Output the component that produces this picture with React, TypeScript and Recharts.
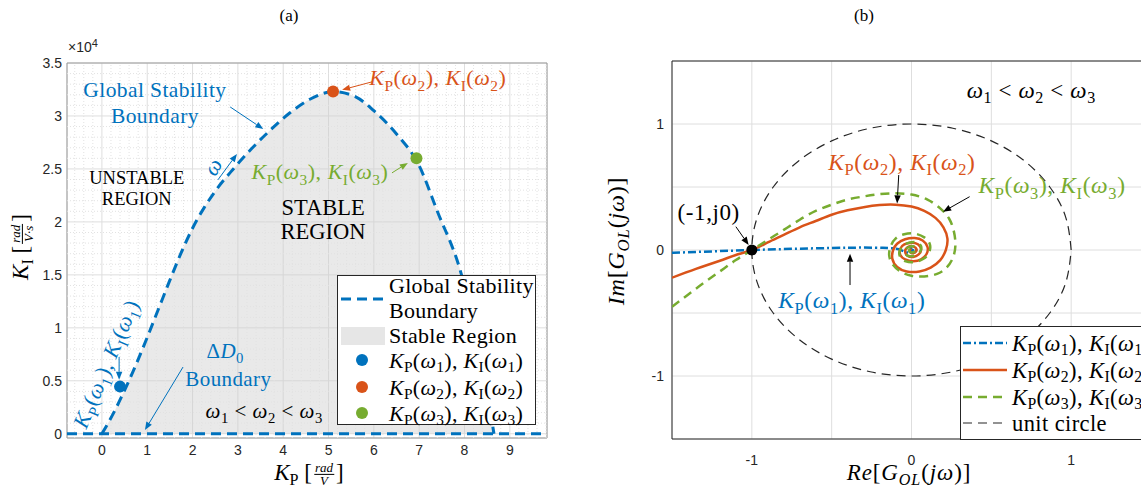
import React from 'react';
import {
  ComposedChart,
  Line,
  Area,
  Scatter,
  XAxis,
  YAxis,
  CartesianGrid,
  ReferenceLine,
  ReferenceArea,
} from 'recharts';

const BLUE = '#0072BD';
const ORANGE = '#D95319';
const GREEN = '#77AC30';
const INK = '#262626';
const SERIF = '"Liberation Serif", "DejaVu Serif", serif';
const SANS = '"Liberation Sans", Arial, Helvetica, sans-serif';

// ---------- (a) stability map, Kp - KI plane ----------
const kpTicks = [0, 1, 2, 3, 4, 5, 6, 7, 8, 9];
const kiTicks = [0, 5000, 10000, 15000, 20000, 25000, 30000, 35000];
const kpDomain: [number, number] = [-0.77, 9.82];
const kiDomain: [number, number] = [-400, 35000];

const boundaryKp = [0, 0.25, 0.5, 0.75, 1.0, 1.25, 1.5, 1.75, 2.0, 2.25, 2.5, 2.9, 3.3, 3.7, 4.15, 4.6, 5.1, 5.6, 6.0, 6.5, 7.0, 7.4, 7.9, 8.3, 8.65];
const boundaryKi = [0, 1900, 4100, 6500, 9100, 11800, 14500, 17100, 19400, 21300, 22900, 25000, 26900, 28600, 30300, 31600, 32300, 31800, 30500, 28300, 25300, 21000, 15500, 8500, 0];

const deltaD0Kp = [-0.77, 9.82];
const deltaD0Ki = [0, 0];

const pointKp = [0.4, 5.1, 6.94];
const pointKi = [4450, 32300, 26000];

// ---------- (b) Nyquist plot ----------
const nyqTicks = [-1.5, -1, -0.5, 0, 0.5, 1, 1.5];

const w1Re = [-1.5, -1.25, -1.0, -0.75, -0.5, -0.3, -0.18, -0.12, -0.08, -0.06, -0.04, -0.01, 0.02, 0.03, 0.02, 0.0, -0.015, -0.01, 0.005, 0.008, 0.0];
const w1Im = [-0.022, -0.011, 0.0, 0.009, 0.016, 0.019, 0.017, 0.013, 0.006, -0.004, -0.015, -0.022, -0.016, 0.0, 0.012, 0.016, 0.006, -0.007, -0.008, 0.002, 0.0];

const w2Re = [-1.5, -1.35, -1.2, -1.1, -1.0, -0.9, -0.8, -0.7, -0.6, -0.5, -0.4, -0.3, -0.2, -0.1, 0.0, 0.08, 0.15, 0.2, 0.225, 0.215, 0.18, 0.12, 0.05, -0.03, -0.09, -0.12, -0.115, -0.09, -0.04, 0.02, 0.07, 0.1, 0.095, 0.06, 0.01, -0.04, -0.07, -0.07, -0.045, 0.0, 0.04, 0.06, 0.045, 0.01, -0.025, -0.04, -0.025, 0.0, 0.025, 0.03, 0.01, -0.01, -0.01, 0.0];
const w2Im = [-0.22, -0.15, -0.085, -0.04, 0.0, 0.06, 0.12, 0.18, 0.23, 0.28, 0.315, 0.34, 0.357, 0.36, 0.345, 0.31, 0.255, 0.18, 0.09, 0.0, -0.08, -0.14, -0.17, -0.17, -0.135, -0.07, 0.0, 0.05, 0.085, 0.095, 0.075, 0.025, -0.03, -0.075, -0.09, -0.075, -0.04, 0.01, 0.045, 0.058, 0.045, 0.005, -0.035, -0.055, -0.045, -0.01, 0.022, 0.032, 0.018, -0.008, -0.025, -0.015, 0.004, 0.0];

const w3Re = [-1.5, -1.4, -1.3, -1.2, -1.1, -1.0, -0.9, -0.8, -0.7, -0.6, -0.5, -0.4, -0.3, -0.2, -0.1, 0.0, 0.1, 0.18, 0.235, 0.265, 0.275, 0.26, 0.22, 0.16, 0.08, 0.0, -0.07, -0.12, -0.14, -0.13, -0.1, -0.045, 0.02, 0.08, 0.115, 0.11, 0.075, 0.02, -0.035, -0.07, -0.075, -0.05, -0.01, 0.035, 0.06, 0.055, 0.025, -0.01, -0.035, -0.04, -0.02, 0.01, 0.03, 0.025, 0.0, -0.015, -0.01, 0.0];
const w3Im = [-0.45, -0.355, -0.26, -0.17, -0.08, 0.0, 0.08, 0.16, 0.24, 0.31, 0.36, 0.4, 0.425, 0.443, 0.45, 0.44, 0.4, 0.33, 0.25, 0.15, 0.04, -0.06, -0.14, -0.19, -0.21, -0.205, -0.17, -0.11, -0.04, 0.03, 0.09, 0.125, 0.13, 0.1, 0.045, -0.02, -0.07, -0.095, -0.09, -0.055, -0.01, 0.035, 0.06, 0.06, 0.03, -0.01, -0.04, -0.05, -0.035, -0.005, 0.022, 0.03, 0.015, -0.008, -0.02, -0.01, 0.003, 0.0];

const circleRe = [1, 0.966, 0.866, 0.707, 0.5, 0.259, 0, -0.259, -0.5, -0.707, -0.866, -0.966, -1, -0.966, -0.866, -0.707, -0.5, -0.259, 0, 0.259, 0.5, 0.707, 0.866, 0.966, 1];
const circleIm = [0, 0.259, 0.5, 0.707, 0.866, 0.966, 1, 0.966, 0.866, 0.707, 0.5, 0.259, 0, -0.259, -0.5, -0.707, -0.866, -0.966, -1, -0.966, -0.866, -0.707, -0.5, -0.259, 0];

const criticalRe = [-1];
const criticalIm = [0];

const zip = (xs: number[], ys: number[]) => xs.map((x, i) => ({ x, y: ys[i] }));

// minor grid positions for the left axes
const kpMinor: number[] = [];
for (let i = -3; i <= 49; i++) if (i % 5 !== 0) kpMinor.push(i / 5);
const kiMinor: number[] = [];
for (let i = 1; i <= 35; i++) if (i % 5 !== 0) kiMinor.push(i * 1000);

// ---------- text helpers ----------
type Tok = [string, 'r' | 'i' | 's' | 'si'];

const kpki = (n: string): Tok[] => [
  ['K', 'i'], ['P', 's'], ['(', 'r'], ['ω', 'i'], [n, 's'], ['), ', 'r'],
  ['K', 'i'], ['I', 's'], ['(', 'r'], ['ω', 'i'], [n, 's'], [')', 'r'],
];
const omegaOrder: Tok[] = [
  ['ω', 'i'], ['1', 's'], [' < ', 'r'], ['ω', 'i'], ['2', 's'], [' < ', 'r'], ['ω', 'i'], ['3', 's'],
];
const plain = (t: string): Tok[] => [[t, 'r']];

function MathText({ x, y, toks, size, fill, rotate, spacing }: { x: number; y: number; toks: Tok[]; size: number; fill: string; rotate: number; spacing: number }) {
  let shifted = false;
  const spans = toks.map(([t, k], idx) => {
    const sub = k === 's' || k === 'si';
    let dy = 0;
    if (sub && !shifted) dy = size * 0.25;
    if (!sub && shifted) dy = -size * 0.25;
    shifted = sub;
    return (
      <tspan key={idx} dy={dy} fontSize={sub ? size * 0.7 : size} fontStyle={k === 'i' || k === 'si' ? 'italic' : 'normal'}>
        {t}
      </tspan>
    );
  });
  return (
    <text
      x={x}
      y={y + size * 0.33}
      textAnchor="middle"
      fill={fill}
      fontFamily={SERIF}
      fontSize={size}
      letterSpacing={spacing}
      style={{ whiteSpace: 'pre' }}
      transform={rotate ? `rotate(${rotate} ${x} ${y})` : undefined}
    >
      {spans}
    </text>
  );
}

const note = (id: string, x: number, y: number, toks: Tok[], fill = '#000', size = 22, rotate = 0, spacing = 0.4) => (
  <Scatter
    key={id}
    data={[{ x, y }]}
    dataKey="y"
    isAnimationActive={false}
    shape={(p: any) => <MathText x={p.cx} y={p.cy} toks={toks} size={size} fill={fill} rotate={rotate} spacing={spacing} />}
  />
);

const arrowShape = (color: string) => (p: any) => {
  const { x1, y1, x2, y2 } = p;
  const a = Math.atan2(y2 - y1, x2 - x1);
  const L = 8;
  const W = 3.2;
  const bx = x2 - L * Math.cos(a);
  const by = y2 - L * Math.sin(a);
  const pts = `${x2},${y2} ${bx + W * Math.sin(a)},${by - W * Math.cos(a)} ${bx - W * Math.sin(a)},${by + W * Math.cos(a)}`;
  return (
    <g>
      <line x1={x1} y1={y1} x2={bx} y2={by} stroke={color} strokeWidth={1} />
      <polygon points={pts} fill={color} />
    </g>
  );
};

const arrow = (id: string, xa: number, ya: number, xb: number, yb: number, color: string) => (
  <ReferenceLine
    key={id}
    segment={[{ x: xa, y: ya }, { x: xb, y: yb }]}
    ifOverflow="visible"
    shape={arrowShape(color)}
  />
);

const tickStyle = { fontSize: 14, fill: INK, fontFamily: SANS };

// ---------- (a) ----------
function StabilityMap() {
  const boundary = zip(boundaryKp, boundaryKi);
  const pointColors = [BLUE, ORANGE, GREEN];
  return (
    <ComposedChart width={600} height={489} margin={{ top: 63, right: 53, left: 27, bottom: 21 }}>
      <CartesianGrid stroke="#dedede" />
      <XAxis
        type="number"
        dataKey="x"
        domain={kpDomain}
        ticks={kpTicks}
        interval={0}
        allowDataOverflow
        height={30}
        tickLine={false}
        axisLine={false}
        tickSize={5}
        tickMargin={2}
        tick={tickStyle}
      />
      <YAxis
        type="number"
        domain={kiDomain}
        ticks={kiTicks}
        interval={0}
        allowDataOverflow
        width={40}
        tickLine={false}
        axisLine={false}
        tickSize={3}
        tickMargin={2}
        tick={tickStyle}
        tickFormatter={(v: number) => String(v / 10000)}
      />
      {kpMinor.map((v) => (
        <ReferenceLine key={'vx' + v} x={v} stroke="#e2e2e2" strokeDasharray="1 2" />
      ))}
      {kiMinor.map((v) => (
        <ReferenceLine key={'hy' + v} y={v} stroke="#e2e2e2" strokeDasharray="1 2" />
      ))}
      <Area
        data={boundary}
        dataKey="y"
        type="monotone"
        baseValue={0}
        stroke="none"
        fill="#cfcfcf"
        fillOpacity={0.45}
        isAnimationActive={false}
      />
      <Line
        data={zip(deltaD0Kp, deltaD0Ki)}
        dataKey="y"
        type="linear"
        stroke={BLUE}
        strokeWidth={3}
        strokeDasharray="10 6"
        dot={false}
        isAnimationActive={false}
      />
      <Line
        data={boundary}
        dataKey="y"
        type="monotone"
        stroke={BLUE}
        strokeWidth={3}
        strokeDasharray="10 6"
        dot={false}
        isAnimationActive={false}
      />
      {pointKp.map((kp, i) => (
        <Scatter
          key={'pt' + i}
          data={[{ x: kp, y: pointKi[i] }]}
          dataKey="y"
          isAnimationActive={false}
          shape={(p: any) => <circle cx={p.cx} cy={p.cy} r={6} fill={pointColors[i]} />}
        />
      ))}
      <ReferenceArea x1={kpDomain[0]} x2={kpDomain[1]} y1={kiDomain[0]} y2={kiDomain[1]} fill="none" stroke="#9a9a9a" ifOverflow="visible" />

      {arrow('a1', 2.83, 30850, 3.56, 28760, BLUE)}
      {arrow('a2', 2.56, 23970, 2.98, 26420, BLUE)}
      {arrow('a3', 6.4, 24630, 6.75, 25570, GREEN)}
      {arrow('a4', 5.96, 33220, 5.3, 32470, ORANGE)}
      {arrow('a5', 0.38, 7250, 0.38, 5100, BLUE)}
      {arrow('a6', 1.79, 6300, 0.95, 350, BLUE)}

      {note('n1', 1.17, 32470, plain('Global Stability'), BLUE, 21.5)}
      {note('n2', 1.17, 30000, plain('Boundary'), BLUE, 21.5)}
      {note('n3', 2.45, 25200, [['ω', 'i']], BLUE, 22, -60)}
      {note('n4', 0.77, 24160, plain('UNSTABLE'), '#000', 18.5, 0, 0)}
      {note('n5', 0.77, 22170, plain('REGION'), '#000', 18.5, 0, 0)}
      {note('n6', 4.88, 21330, plain('STABLE'), '#000', 22.5, 0, 0)}
      {note('n7', 4.88, 19060, plain('REGION'), '#000', 22.5, 0, 0)}
      {note('n8', 4.81, 24720, kpki('3'), GREEN, 22, 0, 0.5)}
      {note('n9', 7.41, 33600, kpki('2'), ORANGE, 22, 0, 0.5)}
      {note('n10', 0.1, 6600, kpki('1'), BLUE, 22, -67, 0.5)}
      {note('n11', 2.72, 7850, [['Δ', 'r'], ['D', 'i'], ['0', 's']], BLUE, 21)}
      {note('n12', 2.79, 5150, plain('Boundary'), BLUE, 21)}
      {note('n13', 3.58, 2150, omegaOrder, '#000', 21, 0, 0.5)}
    </ComposedChart>
  );
}

// ---------- (b) ----------
function Nyquist() {
  const fmt = (v: number) => (Number.isInteger(v) ? String(v) : '');
  return (
    <ComposedChart width={620} height={489} margin={{ top: 61, right: 59, left: 42, bottom: 20 }}>
      <CartesianGrid stroke="#dedede" />
      <XAxis
        type="number"
        dataKey="x"
        domain={[-1.5, 1.5]}
        ticks={nyqTicks}
        interval={0}
        allowDataOverflow
        height={30}
        tickLine={false}
        axisLine={false}
        tickSize={6}
        tickMargin={10}
        tick={tickStyle}
        tickFormatter={fmt}
      />
      <YAxis
        type="number"
        domain={[-1.5, 1.5]}
        ticks={nyqTicks}
        interval={0}
        allowDataOverflow
        width={40}
        tickLine={false}
        axisLine={false}
        tickSize={6}
        tickMargin={2}
        tick={tickStyle}
        tickFormatter={fmt}
      />
      <Line data={zip(circleRe, circleIm)} dataKey="y" type="natural" stroke={INK} strokeWidth={1.2} strokeDasharray="9 6" dot={false} isAnimationActive={false} />
      <Line data={zip(w1Re, w1Im)} dataKey="y" type="natural" stroke={BLUE} strokeWidth={2.5} strokeDasharray="8 3 2 3" dot={false} isAnimationActive={false} />
      <Line data={zip(w2Re, w2Im)} dataKey="y" type="natural" stroke={ORANGE} strokeWidth={2.5} dot={false} isAnimationActive={false} />
      <Line data={zip(w3Re, w3Im)} dataKey="y" type="natural" stroke={GREEN} strokeWidth={2.5} strokeDasharray="9 6" dot={false} isAnimationActive={false} />
      <Scatter
        data={zip(criticalRe, criticalIm)}
        dataKey="y"
        isAnimationActive={false}
        shape={(p: any) => <circle cx={p.cx} cy={p.cy} r={5.5} fill="#000" />}
      />
      <ReferenceArea x1={-1.5} x2={1.5} y1={-1.5} y2={1.5} fill="none" stroke={INK} ifOverflow="visible" />

      {arrow('b1', -1.1, 0.185, -1.02, 0.04, '#000')}
      {arrow('b2', -0.08, 0.595, -0.09, 0.37, '#000')}
      {arrow('b3', 0.364, 0.423, 0.198, 0.304, '#000')}
      {arrow('b4', -0.385, -0.278, -0.385, -0.03, '#000')}

      {note('m1', 0.75, 1.27, omegaOrder, '#000', 23, 0, 0.6)}
      {note('m2', -1.27, 0.3, plain('(-1,j0)'), '#000', 23, 0, 0.6)}
      {note('m3', -0.06, 0.7, kpki('2'), ORANGE, 23.5, 0, 0.6)}
      {note('m4', 0.88, 0.516, kpki('3'), GREEN, 23.5, 0, 0.6)}
      {note('m5', -0.374, -0.397, kpki('1'), BLUE, 23.5, 0, 0.6)}
    </ComposedChart>
  );
}

// ---------- html text pieces ----------
const Sub = ({ children, italic = false }: { children: React.ReactNode; italic?: boolean }) => (
  <span style={{ fontSize: '0.7em', position: 'relative', top: '0.28em', fontStyle: italic ? 'italic' : 'normal' }}>{children}</span>
);

const KpKi = ({ n }: { n: string }) => (
  <span>
    <i>K</i>
    <Sub>P</Sub>(<i>ω</i>
    <Sub>{n}</Sub>), <i>K</i>
    <Sub>I</Sub>(<i>ω</i>
    <Sub>{n}</Sub>)
  </span>
);

const Frac = ({ n, d }: { n: string; d: string }) => (
  <span
    style={{
      display: 'inline-flex',
      flexDirection: 'column',
      alignItems: 'center',
      fontSize: 13,
      fontStyle: 'italic',
      lineHeight: '12px',
      verticalAlign: 'middle',
      margin: '0 2px',
    }}
  >
    <span style={{ borderBottom: '1px solid #000', padding: '0 1px' }}>{n}</span>
    <span>{d}</span>
  </span>
);

const abs = (left: number, top: number, extra: React.CSSProperties = {}): React.CSSProperties => ({
  position: 'absolute',
  left,
  top,
  whiteSpace: 'nowrap',
  ...extra,
});

const centered = (cx: number, cy: number, rotate = 0, size = 22): React.CSSProperties => ({
  position: 'absolute',
  left: cx,
  top: cy,
  transform: `translate(-50%, -50%)${rotate ? ` rotate(${rotate}deg)` : ''}`,
  whiteSpace: 'nowrap',
  fontFamily: SERIF,
  fontSize: size,
  lineHeight: `${size}px`,
  color: '#000',
});

function LeftLegend() {
  const row = (top: number, content: React.ReactNode) => (
    <div style={abs(51, top - 12, { lineHeight: '24px' })}>{content}</div>
  );
  return (
    <div
      style={{
        position: 'absolute',
        left: 337,
        top: 275,
        width: 199,
        height: 150,
        boxSizing: 'border-box',
        border: `1px solid ${INK}`,
        background: '#fff',
        fontFamily: SERIF,
        fontSize: 22,
        letterSpacing: 0.3,
        color: '#000',
      }}
    >
      <svg width={199} height={150} style={{ position: 'absolute', left: -1, top: -1 }}>
        <line x1={4} x2={48} y1={24} y2={24} stroke={BLUE} strokeWidth={3} strokeDasharray="10 6" />
        <rect x={4} y={52} width={44} height={18} fill="#e6e6e6" />
        <circle cx={25} cy={85} r={6} fill={BLUE} />
        <circle cx={25} cy={112} r={6} fill={ORANGE} />
        <circle cx={25} cy={138} r={6} fill={GREEN} />
      </svg>
      {row(10, 'Global Stability')}
      {row(35, 'Boundary')}
      {row(60, 'Stable Region')}
      {row(85, <KpKi n="1" />)}
      {row(112, <KpKi n="2" />)}
      {row(138, <KpKi n="3" />)}
    </div>
  );
}

function RightLegend() {
  const row = (top: number, content: React.ReactNode) => (
    <div style={abs(51, top - 12, { lineHeight: '24px' })}>{content}</div>
  );
  return (
    <div
      style={{
        position: 'absolute',
        left: 960,
        top: 326,
        width: 240,
        height: 114,
        boxSizing: 'border-box',
        border: `1px solid ${INK}`,
        background: '#fff',
        fontFamily: SERIF,
        fontSize: 22.5,
        letterSpacing: 0.4,
        color: '#000',
      }}
    >
      <svg width={240} height={114} style={{ position: 'absolute', left: -1, top: -1 }}>
        <line x1={3} x2={47} y1={17} y2={17} stroke={BLUE} strokeWidth={2.5} strokeDasharray="8 3 2 3" />
        <line x1={3} x2={47} y1={44} y2={44} stroke={ORANGE} strokeWidth={2.5} />
        <line x1={3} x2={47} y1={71} y2={71} stroke={GREEN} strokeWidth={2.5} strokeDasharray="9 6" />
        <line x1={3} x2={47} y1={97} y2={97} stroke={INK} strokeWidth={1.2} strokeDasharray="9 6" />
      </svg>
      {row(17, <KpKi n="1" />)}
      {row(44, <KpKi n="2" />)}
      {row(71, <KpKi n="3" />)}
      {row(97, 'unit circle')}
    </div>
  );
}

export default function App() {
  return (
    <div style={{ position: 'absolute', left: 0, top: 0, width: 1141, height: 489, overflow: 'hidden', background: '#fff' }}>
      <div style={{ position: 'absolute', left: 0, top: 0 }}>
        <StabilityMap />
      </div>
      <div style={{ position: 'absolute', left: 590, top: 0 }}>
        <Nyquist />
      </div>

      <div style={centered(289, 15, 0, 17)}>(a)</div>
      <div style={centered(864, 15, 0, 17)}>(b)</div>

      <div style={abs(68, 39, { fontFamily: SANS, fontSize: 14, color: INK })}>
        ×10<span style={{ fontSize: 11, position: 'relative', top: '-0.5em' }}>4</span>
      </div>

      <div style={centered(309, 474, 0, 23)}>
        <i>K</i>
        <Sub>P</Sub> [<Frac n="rad" d="V" />]
      </div>
      <div style={centered(22, 247, -90, 23)}>
        <i>K</i>
        <Sub>I</Sub> [<Frac n="rad" d="V·s" />]
      </div>
      <div style={{ ...centered(617, 241, -90, 24), letterSpacing: 0.8 }}>
        <i>Im</i>[<i>G</i>
        <Sub italic>OL</Sub>(<i>jω</i>)]
      </div>
      <div style={{ ...centered(909, 473, 0, 23), letterSpacing: 0.9 }}>
        <i>Re</i>[<i>G</i>
        <Sub italic>OL</Sub>(<i>jω</i>)]
      </div>

      <LeftLegend />
      <RightLegend />
    </div>
  );
}
